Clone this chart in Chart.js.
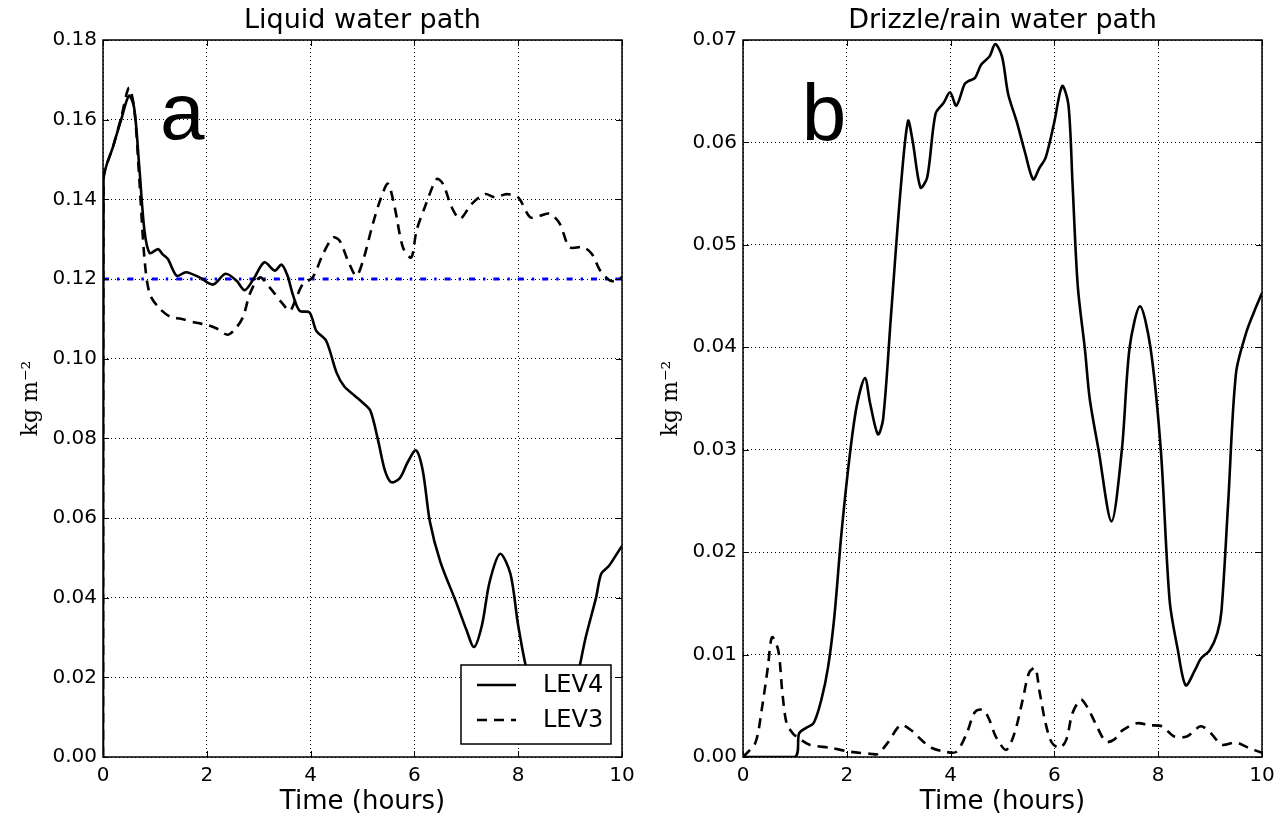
<!DOCTYPE html>
<html>
<head>
<meta charset="utf-8">
<script src="https://cdn.jsdelivr.net/npm/chart.js@4.4.1/dist/chart.umd.min.js"></script>
<style>
html,body{margin:0;padding:0;background:#fff;}
#wrap{position:relative;width:1286px;height:821px;overflow:hidden;}
canvas{position:absolute;top:0;}
#c1{left:0;}
#c2{left:643px;}
</style>
</head>
<body>
<div id="wrap">
<canvas id="c1" width="643" height="821"></canvas>
<canvas id="c2" width="643" height="821"></canvas>
</div>
<script>
// ---------- Data ----------
const titles = ["Liquid water path", "Drizzle/rain water path"];
const seriesNames = ["LEV4", "LEV3"];
const xTicks = [0, 2, 4, 6, 8, 10];
const lwpTicks = [0, 0.02, 0.04, 0.06, 0.08, 0.10, 0.12, 0.14, 0.16, 0.18];
const rwpTicks = [0, 0.01, 0.02, 0.03, 0.04, 0.05, 0.06, 0.07];

// Panel a: LEV4 liquid water path
const lwpTime4 = [0,0.01,0.2,0.35,0.5,0.6,0.7,0.8,0.9,1.06,1.15,1.25,1.42,1.6,1.86,2.12,2.36,2.57,2.73,2.9,3.11,3.31,3.44,3.55,3.66,3.79,3.98,4.11,4.3,4.5,4.65,4.85,5.0,5.15,5.3,5.43,5.55,5.72,5.87,6.03,6.16,6.3,6.5,6.8,7.0,7.15,7.3,7.45,7.65,7.85,8.0,8.2,8.5,8.7,8.9,9.1,9.3,9.5,9.6,9.75,9.9,10];
const lwpLev4  = [0,0.145,0.1535,0.160,0.166,0.163,0.148,0.132,0.1265,0.1275,0.1262,0.125,0.1208,0.1217,0.1204,0.1186,0.1213,0.1196,0.1172,0.120,0.1242,0.1221,0.1236,0.121,0.116,0.112,0.1116,0.107,0.1045,0.0965,0.093,0.0907,0.089,0.087,0.0795,0.072,0.069,0.070,0.074,0.077,0.072,0.059,0.049,0.039,0.032,0.0276,0.033,0.044,0.051,0.046,0.033,0.020,0.010,0.008,0.011,0.018,0.030,0.040,0.046,0.048,0.051,0.053];
// Panel a: LEV3 liquid water path
const lwpTime3 = [0,0.01,0.2,0.35,0.5,0.6,0.7,0.8,0.9,1.09,1.3,1.5,1.8,2.0,2.2,2.4,2.55,2.7,2.83,3.02,3.21,3.46,3.6,3.7,3.85,4.04,4.24,4.43,4.56,4.72,4.88,5.01,5.2,5.36,5.49,5.62,5.78,5.94,6.04,6.2,6.43,6.55,6.72,6.88,7.1,7.36,7.55,7.78,8.0,8.23,8.42,8.61,8.8,8.99,9.25,9.42,9.58,9.77,9.9,10];
const lwpLev3  = [0,0.145,0.1535,0.1605,0.168,0.163,0.145,0.125,0.1163,0.1126,0.1105,0.110,0.109,0.1085,0.1075,0.106,0.1075,0.1105,0.1163,0.1204,0.1179,0.1138,0.112,0.1145,0.1187,0.1204,0.1263,0.1304,0.1296,0.1246,0.1208,0.1246,0.1339,0.1405,0.1439,0.138,0.1279,0.1254,0.1321,0.138,0.1451,0.1439,0.138,0.1351,0.1388,0.1413,0.1405,0.1413,0.1405,0.1355,0.1359,0.1364,0.1339,0.128,0.128,0.1263,0.1221,0.1196,0.1196,0.1205];
// Panel a: reference value
const refTime = [0, 10];
const refLwp = [0.12, 0.12];

// Panel b: LEV4 drizzle/rain water path
const rwpTime4 = [0,1.0,1.08,1.2,1.36,1.51,1.64,1.76,1.9,2.07,2.2,2.35,2.45,2.6,2.7,2.85,3.04,3.18,3.27,3.42,3.55,3.71,3.87,3.99,4.11,4.27,4.35,4.47,4.59,4.75,4.86,4.99,5.11,5.27,5.43,5.59,5.71,5.83,5.99,6.15,6.27,6.35,6.45,6.59,6.68,6.85,7.1,7.3,7.45,7.65,7.85,8.05,8.22,8.38,8.53,8.71,8.82,8.99,9.14,9.22,9.35,9.5,9.7,9.85,10];
const rwpLev4  = [0,0,0.0023,0.0028,0.0033,0.0056,0.0088,0.0137,0.022,0.030,0.0345,0.037,0.0345,0.0315,0.033,0.043,0.0556,0.0621,0.0601,0.0556,0.0566,0.0628,0.0639,0.0649,0.0636,0.0657,0.066,0.0663,0.0676,0.0684,0.0696,0.0684,0.0647,0.0621,0.0591,0.0564,0.0575,0.0585,0.0618,0.0655,0.0637,0.0559,0.046,0.0397,0.035,0.030,0.023,0.030,0.040,0.044,0.040,0.030,0.0153,0.0104,0.0070,0.0085,0.0096,0.0104,0.0121,0.0143,0.025,0.0375,0.0415,0.0435,0.0453];
// Panel b: LEV3 drizzle/rain water path
const rwpTime3 = [0,0.04,0.24,0.36,0.48,0.56,0.68,0.76,0.84,0.96,1.03,1.28,1.68,2.08,2.48,2.6,2.79,3.04,3.27,3.43,3.63,3.91,4.11,4.31,4.47,4.63,4.75,4.87,5.07,5.23,5.39,5.51,5.63,5.71,5.83,5.95,6.11,6.23,6.35,6.51,6.63,6.79,6.99,7.15,7.31,7.59,7.83,8.07,8.31,8.55,8.82,9.02,9.22,9.5,9.74,10];
const rwpLev3  = [0,0.0002,0.0014,0.0046,0.0088,0.0117,0.0104,0.0062,0.0033,0.0023,0.0020,0.0012,0.0009,0.0005,0.0003,0.0003,0.0014,0.0031,0.0025,0.0017,0.0009,0.0005,0.0005,0.0023,0.0044,0.0046,0.0036,0.0020,0.0007,0.0023,0.0056,0.0082,0.0087,0.0065,0.0033,0.0014,0.0009,0.0017,0.0043,0.0056,0.0049,0.0033,0.0015,0.0017,0.0026,0.0033,0.0031,0.0030,0.0020,0.0020,0.0030,0.0023,0.0012,0.0014,0.0009,0.0004];

// ---------- Helpers ----------
const pts = (xs, ys) => xs.map((x, i) => ({x: x, y: ys[i]}));
const SANS = "'DejaVu Sans', sans-serif";
const DASH = [10, 7];

const framePlugin = {
  id: 'frame',
  afterDatasetsDraw(chart, args, opts) {
    const {ctx, chartArea: a, scales} = chart;
    ctx.save();
    // inward ticks on all four sides
    ctx.strokeStyle = '#000';
    ctx.lineWidth = 1;
    const tl = 6;
    scales.x.ticks.forEach(t => {
      const px = Math.round(scales.x.getPixelForValue(t.value)) + 0.5;
      ctx.beginPath();
      ctx.moveTo(px, a.bottom); ctx.lineTo(px, a.bottom - tl);
      ctx.moveTo(px, a.top); ctx.lineTo(px, a.top + tl);
      ctx.stroke();
    });
    scales.y.ticks.forEach(t => {
      const py = Math.round(scales.y.getPixelForValue(t.value)) + 0.5;
      ctx.beginPath();
      ctx.moveTo(a.left, py); ctx.lineTo(a.left + tl, py);
      ctx.moveTo(a.right, py); ctx.lineTo(a.right - tl, py);
      ctx.stroke();
    });
    // panel letter
    if (opts.letter) {
      ctx.fillStyle = '#000';
      ctx.font = "80px 'Liberation Sans', Arial, sans-serif";
      ctx.textBaseline = 'alphabetic';
      ctx.textAlign = 'left';
      ctx.fillText(opts.letter, scales.x.getPixelForValue(opts.lx), scales.y.getPixelForValue(opts.ly));
    }
    // legend
    if (opts.legend) {
      const w = 150, h = 79;
      const bx = a.right - 11 - w, by = a.bottom - 13 - h;
      ctx.fillStyle = '#fff';
      ctx.fillRect(bx, by, w, h);
      ctx.strokeStyle = '#000';
      ctx.lineWidth = 1.5;
      ctx.strokeRect(bx, by, w, h);
      const ds = chart.data.datasets.filter(d => d.inLegend);
      ds.forEach((d, i) => {
        const cy = by + 20 + i * 35;
        ctx.beginPath();
        ctx.setLineDash(d.borderDash || []);
        ctx.lineWidth = d.borderWidth;
        ctx.strokeStyle = d.borderColor;
        ctx.moveTo(bx + 16, cy); ctx.lineTo(bx + 55, cy);
        ctx.stroke();
        ctx.setLineDash([]);
        ctx.fillStyle = '#000';
        ctx.font = "24px " + SANS;
        ctx.textBaseline = 'middle';
        ctx.textAlign = 'left';
        ctx.fillText(d.label, bx + 82, cy + 1);
      });
    }
    // frame
    ctx.setLineDash([]);
    ctx.strokeStyle = '#000';
    ctx.lineWidth = 1.5;
    ctx.strokeRect(a.left, a.top, a.right - a.left, a.bottom - a.top);
    ctx.restore();
  }
};

function makeChart(id, cfg) {
  return new Chart(document.getElementById(id), {
    type: 'line',
    data: { datasets: cfg.datasets },
    plugins: [framePlugin],
    options: {
      responsive: false,
      animation: false,
      devicePixelRatio: 1,
      layout: { padding: { left: 0, right: cfg.padRight, top: 0, bottom: 0 } },
      elements: { point: { radius: 0 }, line: { tension: 0.3, capBezierPoints: true } },
      plugins: {
        legend: { display: false },
        tooltip: { enabled: false },
        title: { display: false },
        frame: cfg.frame
      },
      scales: {
        xTop: {
          type: 'linear', position: 'top', min: 0, max: 10,
          afterFit: s => { s.height = 40; },
          ticks: { display: false },
          grid: { display: false, drawTicks: false },
          border: { display: false },
          title: { display: true, text: cfg.title, color: '#000',
                   font: { family: SANS, size: 27, lineHeight: 1.2 }, padding: { top: 5, bottom: 0 } }
        },
        x: {
          type: 'linear', position: 'bottom', min: 0, max: 10,
          afterBuildTicks: s => { s.ticks = xTicks.map(v => ({value: v})); },
          afterFit: s => { s.height = 64; },
          ticks: { color: '#000', font: { family: SANS, size: 20 }, padding: 7, maxRotation: 0,
                   callback: v => String(v) },
          grid: { color: '#000', lineWidth: 1, drawTicks: false },
          border: { display: false, dash: [1, 3] },
          title: { display: true, text: 'Time (hours)', color: '#000',
                   font: { family: SANS, size: 26, lineHeight: 1.2 }, padding: { top: 0, bottom: 3 } }
        },
        y: {
          type: 'linear', min: 0, max: cfg.ymax,
          afterBuildTicks: s => { s.ticks = cfg.yTicks.map(v => ({value: v})); },
          afterFit: s => { s.width = cfg.yWidth; },
          ticks: { color: '#000', font: { family: SANS, size: 20 }, padding: 6,
                   callback: v => Number(v).toFixed(2) },
          grid: { color: '#000', lineWidth: 1, drawTicks: false },
          border: { display: false, dash: [1, 3] },
          title: { display: true, text: 'kg m\u207B\u00B2', color: '#000',
                   font: { family: "'DejaVu Serif', serif", size: 22, lineHeight: 1.2 },
                   padding: { top: cfg.yTitlePad, bottom: 0 } }
        }
      }
    }
  });
}

makeChart('c1', {
  title: titles[0], ymax: 0.18, yTicks: lwpTicks, yWidth: 103, padRight: 21, yTitlePad: 18,
  frame: { letter: 'a', lx: 1.1, ly: 0.1552, legend: true },
  datasets: [
    { label: seriesNames[0], inLegend: true, data: pts(lwpTime4, lwpLev4), borderColor: '#000', borderWidth: 2.6, fill: false },
    { label: seriesNames[1], inLegend: true, data: pts(lwpTime3, lwpLev3), borderColor: '#000', borderWidth: 2.6, borderDash: DASH, fill: false },
    { label: 'ref', data: pts(refTime, refLwp), borderColor: '#0000ff', borderWidth: 3, borderDash: [6, 8, 2.4, 8], fill: false, tension: 0 }
  ]
});

makeChart('c2', {
  title: titles[1], ymax: 0.07, yTicks: rwpTicks, yWidth: 100, padRight: 24, yTitlePad: 15,
  frame: { letter: 'b', lx: 1.13, ly: 0.0602, legend: false },
  datasets: [
    { label: seriesNames[0], data: pts(rwpTime4, rwpLev4), borderColor: '#000', borderWidth: 2.6, fill: false },
    { label: seriesNames[1], data: pts(rwpTime3, rwpLev3), borderColor: '#000', borderWidth: 2.6, borderDash: DASH, fill: false }
  ]
});
</script>
</body>
</html>
